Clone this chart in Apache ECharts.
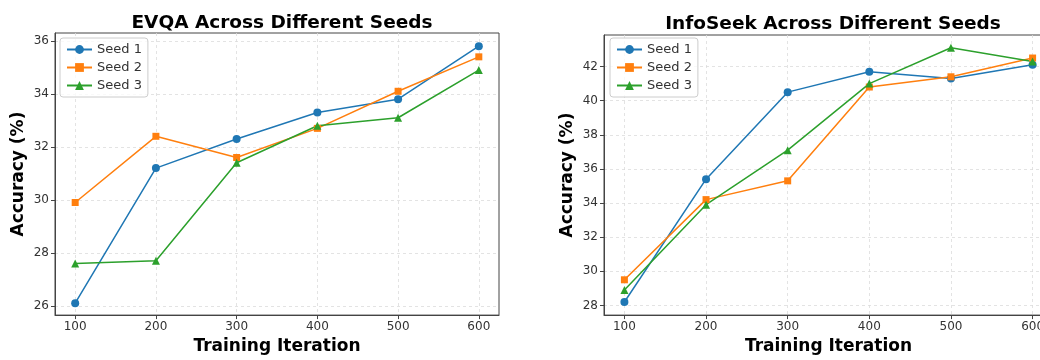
<!DOCTYPE html>
<html>
<head>
<meta charset="utf-8">
<script src="https://cdn.jsdelivr.net/npm/echarts@6/dist/echarts.min.js"></script>
<style>
  html, body { margin: 0; padding: 0; overflow: hidden; background: #fff; }
  #chart { width: 1060px; height: 360px; }
</style>
</head>
<body>
<div id="chart"></div>
<script>
// iterations
var iterations = [100, 200, 300, 400, 500, 600];
var seedNames = ['Seed 1', 'Seed 2', 'Seed 3'];

// EVQA
var evqaSeed1 = [26.1, 31.2, 32.3, 33.3, 33.8, 35.8];
var evqaSeed2 = [29.9, 32.4, 31.6, 32.7, 34.1, 35.4];
var evqaSeed3 = [27.6, 27.7, 31.4, 32.8, 33.1, 34.9];

// InfoSeek
var infoSeed1 = [28.2, 35.4, 40.5, 41.7, 41.3, 42.1];
var infoSeed2 = [29.5, 34.2, 35.3, 40.8, 41.4, 42.5];
var infoSeed3 = [28.9, 33.9, 37.1, 41.0, 43.1, 42.3];

// tick labels
var xTicks = [100, 200, 300, 400, 500, 600];
var evqaYTicks = [26, 28, 30, 32, 34, 36];
var infoYTicks = [28, 30, 32, 34, 36, 38, 40, 42];

var colors = ['#1f77b4', '#ff7f0e', '#2ca02c'];
var symbols = ['circle', 'rect', 'triangle'];
var symSizes = [8, 7, 8];
var font = 'DejaVu Sans';

var pairs = function (ys) {
	return iterations.map(function (x, i) { return [x, ys[i]]; });
};

var xAxisOf = function (gi) {
	return {
		type: 'value', gridIndex: gi, min: 75, max: 625,
		name: 'Training Iteration', nameLocation: 'middle', nameGap: 20,
		nameTextStyle: { fontFamily: font, fontWeight: 'bold', fontSize: 17, color: '#000' },
		axisLine: { show: true, lineStyle: { color: '#444', width: 1 } },
		axisTick: { show: true, length: 4, customValues: xTicks, lineStyle: { color: '#444' } },
		axisLabel: { customValues: xTicks, margin: 6, fontFamily: font, fontSize: 12, color: '#333' },
		splitLine: { show: true, lineStyle: { color: '#dcdcdc', type: [3, 3], width: 0.8 } }
	};
};
var yAxisOf = function (gi, min, max, ticks) {
	return {
		type: 'value', gridIndex: gi, min: min, max: max,
		name: 'Accuracy (%)', nameLocation: 'middle', nameGap: 28,
		nameTextStyle: { fontFamily: font, fontWeight: 'bold', fontSize: 17, color: '#000' },
		axisLine: { show: true, lineStyle: { color: '#444', width: 1 } },
		axisTick: { show: true, length: 4, customValues: ticks, lineStyle: { color: '#444' } },
		axisLabel: { customValues: ticks, margin: 6, fontFamily: font, fontSize: 12, color: '#333' },
		splitLine: { show: true, lineStyle: { color: '#dcdcdc', type: [3, 3], width: 0.8 } }
	};
};
var seriesOf = function (gi, list) {
	return list.map(function (ys, i) {
		return {
			name: seedNames[i], type: 'line', xAxisIndex: gi, yAxisIndex: gi,
			data: pairs(ys), symbol: symbols[i], symbolSize: symSizes[i],
			showAllSymbol: true, animation: false,
			lineStyle: { color: colors[i], width: 1.5 },
			itemStyle: { color: colors[i] }
		};
	});
};
var legendOf = function (left) {
	return {
		left: left, top: 38, orient: 'vertical', data: seedNames,
		itemWidth: 25, itemHeight: 11, itemGap: 5,
		padding: [5, 6, 5, 6],
		borderColor: '#cccccc', borderWidth: 1, borderRadius: 3,
		backgroundColor: 'rgba(255,255,255,0.8)',
		textStyle: { fontFamily: font, fontSize: 13, color: '#333' }
	};
};
var titleStyle = { fontFamily: font, fontWeight: 'bold', fontSize: 18.5, color: '#000' };

var chart = echarts.init(document.getElementById('chart'));
chart.setOption({
	animation: false,
	color: colors,
	title: [
		{ text: 'EVQA Across Different Seeds', left: 277, top: 9, textAlign: 'center', textStyle: titleStyle },
		{ text: 'InfoSeek Across Different Seeds', left: 828, top: 10, textAlign: 'center', textStyle: titleStyle }
	],
	legend: [legendOf(60), legendOf(610)],
	grid: [
		{ left: 55, top: 33, width: 444, height: 284, show: true, borderColor: '#444', borderWidth: 1, backgroundColor: 'transparent' },
		{ left: 604, top: 35, width: 449, height: 287, show: true, borderColor: '#444', borderWidth: 1, backgroundColor: 'transparent' }
	],
	xAxis: [xAxisOf(0), xAxisOf(1)],
	yAxis: [yAxisOf(0, 25.65, 36.3, evqaYTicks), yAxisOf(1, 27.43, 43.85, infoYTicks)],
	series: seriesOf(0, [evqaSeed1, evqaSeed2, evqaSeed3]).concat(seriesOf(1, [infoSeed1, infoSeed2, infoSeed3]))
});
</script>
</body>
</html>
